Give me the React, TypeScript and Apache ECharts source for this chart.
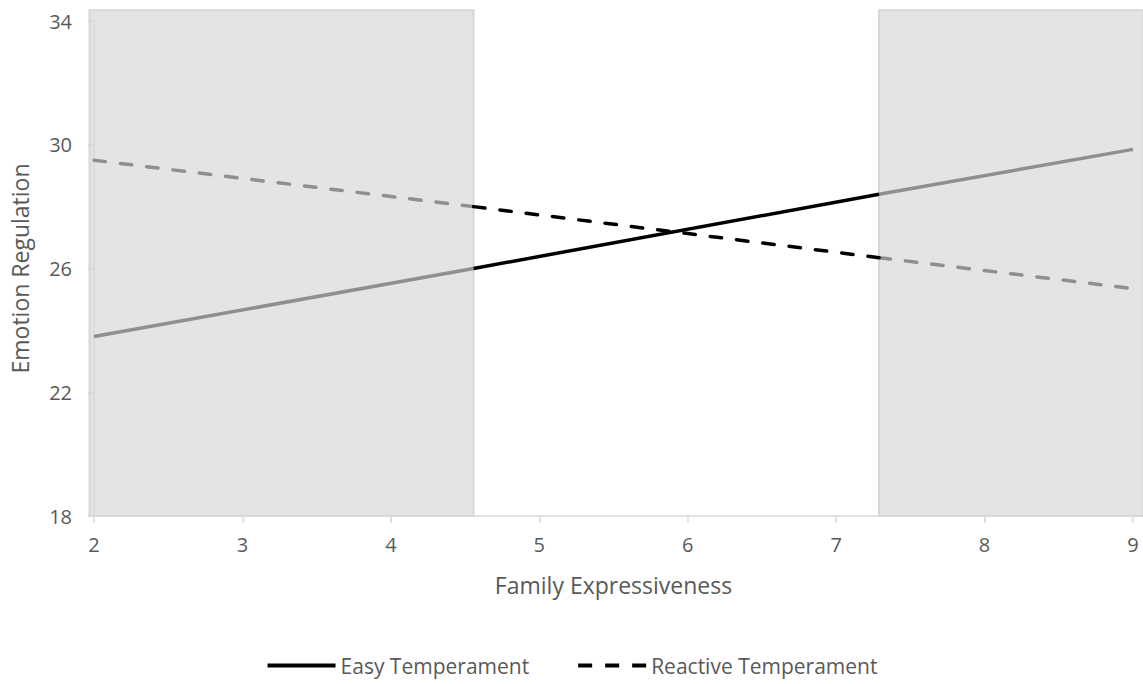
import React, { useEffect, useRef } from "react";
import * as echarts from "echarts";

const xBreaks = [2, 4.557, 7.289, 9];
const easyValues = [23.8, 26.0, 28.4, 29.85];
const reactiveValues = [29.5, 28.0, 26.35, 25.35];
const yMin = 18;
const yMax = 34;
const yInterval = 4;
const xMin = 2;
const xMax = 9;
const shadedRanges = [
  [1.97, 4.557],
  [7.289, 9.07],
];
const shadeTop = 34.35;

const GRAY = "#8f8f8f";
const BLACK = "#000000";
const TEXT = "#595959";
const FONT = "'Open Sans', sans-serif";

function segmentSeries(name: string, values: number[], dashed: boolean) {
  const out: any[] = [];
  for (let i = 0; i < xBreaks.length - 1; i++) {
    const mid = i === 1;
    out.push({
      type: "line",
      name: mid ? name : name + " (outside)",
      data: [
        [xBreaks[i], values[i]],
        [xBreaks[i + 1], values[i + 1]],
      ],
      symbol: "none",
      showSymbol: false,
      z: mid ? 4 : 3,
      lineStyle: {
        color: mid ? BLACK : GRAY,
        width: 3.5,
        type: dashed ? [11.5, 15] : "solid",
        cap: dashed ? "round" : "butt",
      },
      itemStyle: { color: mid ? BLACK : GRAY },
    });
  }
  return out;
}

export default function App() {
  const ref = useRef<HTMLDivElement>(null);
  useEffect(() => {
    document.body.style.margin = "0";
    if (!ref.current) return;
    const chart = echarts.init(ref.current, undefined, { renderer: "svg" });
    const option: any = {
      animation: false,
      backgroundColor: "#ffffff",
      textStyle: { fontFamily: FONT },
      grid: { left: 90, right: 10, top: 21, bottom: 168, containLabel: false },
      xAxis: {
        type: "value",
        min: xMin,
        max: xMax,
        interval: 1,
        name: "Family Expressiveness",
        nameLocation: "middle",
        nameGap: 57,
        nameTextStyle: { color: TEXT, fontSize: 23, fontFamily: FONT },
        axisLine: { show: true, lineStyle: { color: "#d9d9d9", width: 1.5 } },
        axisTick: { show: true, length: 7, lineStyle: { color: "#d9d9d9", width: 1.5 } },
        axisLabel: { color: TEXT, fontSize: 20, margin: 18, fontFamily: FONT },
        splitLine: { show: false },
      },
      yAxis: {
        type: "value",
        min: yMin,
        max: yMax,
        interval: yInterval,
        name: "Emotion Regulation",
        nameLocation: "middle",
        nameGap: 63,
        nameTextStyle: { color: TEXT, fontSize: 23, fontFamily: FONT },
        axisLine: { show: true, lineStyle: { color: "#d9d9d9", width: 1.5 } },
        axisTick: { show: true, length: 6, lineStyle: { color: "#d9d9d9", width: 1.5 } },
        axisLabel: { color: TEXT, fontSize: 20, margin: 22, fontFamily: FONT },
        splitLine: { show: false },
      },
      legend: {
        top: 650,
        left: "center",
        itemWidth: 68,
        itemHeight: 20,
        itemGap: 47,
        itemStyle: { opacity: 0 },
        data: [
          {
            name: "Easy Temperament",
            lineStyle: { width: 4, type: "solid", color: BLACK },
          },
          {
            name: "Reactive Temperament",
            lineStyle: { width: 4, type: [14, 13], cap: "butt", color: BLACK },
          },
        ],
        textStyle: { color: TEXT, fontSize: 21, fontFamily: FONT },
      },
      series: [
        ...segmentSeries("Easy Temperament", easyValues, false),
        ...segmentSeries("Reactive Temperament", reactiveValues, true),
      ],
    };
    chart.setOption(option);
    const rects = shadedRanges.map((r) => {
      const p0 = chart.convertToPixel({ gridIndex: 0 }, [r[0], shadeTop]) as number[];
      const p1 = chart.convertToPixel({ gridIndex: 0 }, [r[1], yMin]) as number[];
      return {
        type: "rect",
        z: -10,
        shape: { x: p0[0], y: p0[1], width: p1[0] - p0[0], height: p1[1] - p0[1] },
        style: { fill: "#e4e4e4", stroke: "#d6d6d6", lineWidth: 2 },
        silent: true,
      };
    });
    chart.setOption({ graphic: rects });
    return () => chart.dispose();
  }, []);
  return <div ref={ref} style={{ width: 1143, height: 684 }} />;
}
